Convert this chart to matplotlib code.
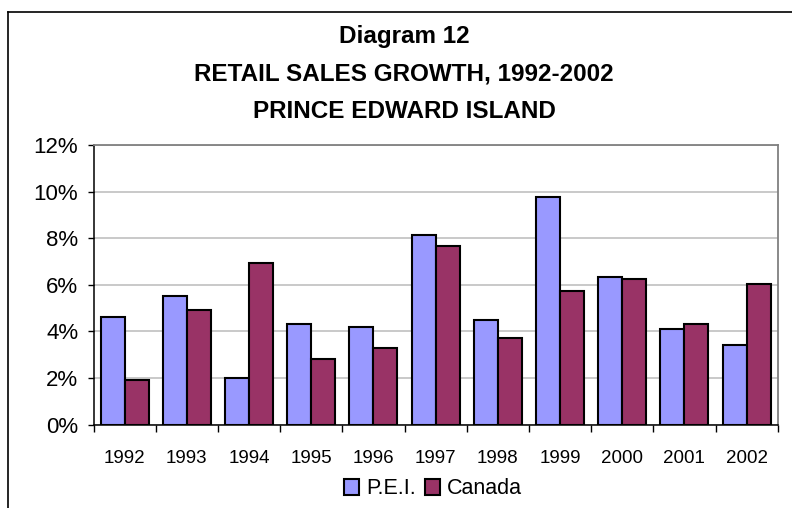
import matplotlib.pyplot as plt
import numpy as np
from matplotlib.lines import Line2D
from matplotlib.ticker import FixedLocator, PercentFormatter

years = ['1992', '1993', '1994', '1995', '1996', '1997', '1998', '1999', '2000', '2001', '2002']
pei = [4.6, 5.5, 2.0, 4.3, 4.2, 8.15, 4.5, 9.75, 6.35, 4.1, 3.4]
canada = [1.9, 4.9, 6.95, 2.8, 3.3, 7.65, 3.7, 5.75, 6.25, 4.3, 6.05]
title_lines = ['Diagram 12', 'RETAIL SALES GROWTH, 1992-2002', 'PRINCE EDWARD ISLAND']

plt.rcParams['font.family'] = ['Liberation Sans', 'DejaVu Sans']

W, H = 792, 508
fig = plt.figure(figsize=(W / 100, H / 100), dpi=100)
ax = fig.add_axes([93.5 / W, 1 - 424.6 / H, (777.7 - 93.5) / W, (424.6 - 145) / H])

x = np.arange(len(years))
bw = 0.385
ax.bar(x - bw / 2, pei, bw, color='#9999FF', edgecolor='black', linewidth=1.5, label='P.E.I.', zorder=3)
ax.bar(x + bw / 2, canada, bw, color='#993366', edgecolor='black', linewidth=1.5, label='Canada', zorder=3)

ax.set_xlim(-0.5, len(years) - 0.5)
ax.set_ylim(0, 12)
ax.set_yticks(np.arange(0, 13, 2))
ax.yaxis.set_major_formatter(PercentFormatter(decimals=0))
ax.tick_params(axis='y', labelsize=16, length=4, width=1, pad=7)

# ticks between categories, labels centred under each pair
ax.xaxis.set_major_locator(FixedLocator(np.arange(-0.5, len(years), 1)))
ax.xaxis.set_minor_locator(FixedLocator(x))
ax.set_xticklabels([])
ax.set_xticklabels(years, minor=True)
ax.tick_params(axis='x', which='major', length=5, width=1)
ax.tick_params(axis='x', which='minor', length=0, labelsize=13.5, pad=18)

ax.yaxis.grid(True, color='#C0C0C0', linewidth=1.2, zorder=0)
ax.set_axisbelow(True)
for side in ['top', 'right']:
    ax.spines[side].set_color('#808080')
    ax.spines[side].set_linewidth(1.3)
for side in ['left', 'bottom']:
    ax.spines[side].set_color('black')
    ax.spines[side].set_linewidth(1.1)

title_y = [36.5, 74, 111]
for txt, ty in zip(title_lines, title_y):
    fig.text(404 / W, 1 - ty / H, txt, ha='center', va='center', fontsize=17.5, fontweight='bold')

fig.legend(loc='center', bbox_to_anchor=(433 / W, 1 - 489 / H), ncol=2, frameon=False,
           fontsize=15.5, handlelength=0.7, handleheight=0.7, handletextpad=0.3,
           columnspacing=0.45, borderpad=0)

# outer chart frame (cut off at right and bottom)
fig.add_artist(Line2D([8 / W, 8 / W], [0, 1 - 12 / H], color='black', linewidth=1.2))
fig.add_artist(Line2D([8 / W, 1], [1 - 12 / H, 1 - 12 / H], color='black', linewidth=1.2))

plt.savefig('out.png', dpi=100)
